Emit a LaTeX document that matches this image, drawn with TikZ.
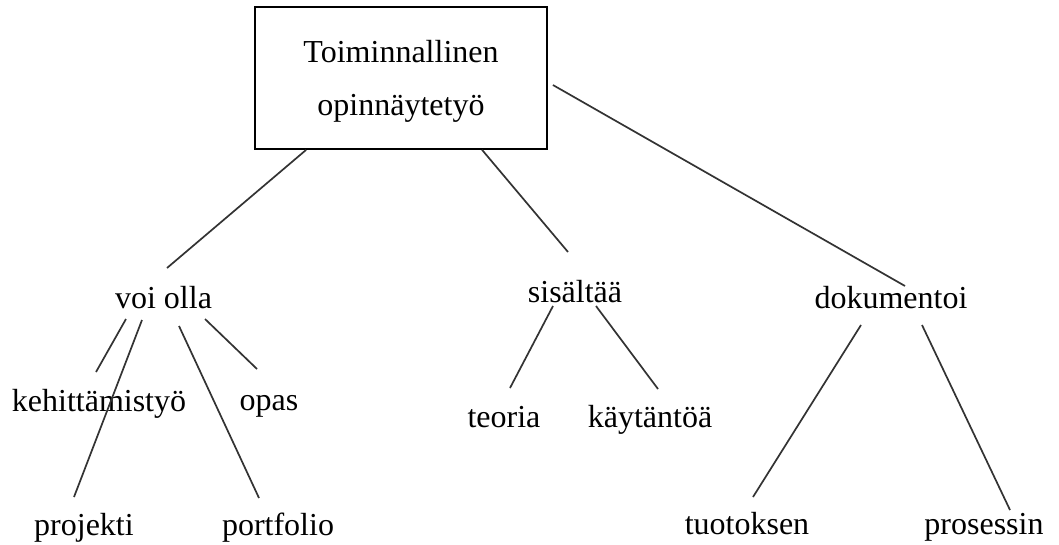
\documentclass[tikz,border=0pt]{standalone}
\usepackage{fontspec}
\setmainfont{Liberation Serif}
\usetikzlibrary{calc}
\begin{document}
\begin{tikzpicture}[x=1pt,y=-1pt,
  lbl/.style={inner sep=0pt,anchor=base,font=\fontsize{32}{38}\selectfont},
  conn/.style={line width=1.7pt,draw=black!80}]
\useasboundingbox (0,0) rectangle (1059,544);
\fill[white] (0,0) rectangle (1059,544);
% root box
\node[draw,line width=1.8pt,minimum width=292pt,minimum height=142pt,inner sep=0pt] (root) at (401,78) {};
\node[lbl] (t1) at (401,62) {Toiminnallinen};
\node[lbl] (t2) at (401,115) {opinnäytetyö};
% level 1
\node[lbl] (voi) at (163.5,308) {voi olla};
\node[lbl] (sis) at (575,302) {sisältää};
\node[lbl] (dok) at (891,308) {dokumentoi};
% level 2
\node[lbl] (keh) at (99,411) {kehittämistyö};
\node[lbl] (opas) at (269,410) {opas};
\node[lbl] (proj) at (84,535) {projekti};
\node[lbl] (port) at (278,535) {portfolio};
\node[lbl] (teo) at (504,427) {teoria};
\node[lbl] (kay) at (650,427) {käytäntöä};
\node[lbl] (tuo) at (747,534) {tuotoksen};
\node[lbl] (pro) at (984,534) {prosessin};
% connectors
\draw[conn] ($(root.south west)+(52,0)$) -- ($(voi.base)+(3.5,-40)$);
\draw[conn] ($(root.south west)+(228,0)$) -- ($(sis.base)+(-7,-50)$);
\draw[conn] ($(root.east)+(5,7)$) -- ($(dok.base)+(14,-22)$);
\draw[conn] ($(voi.base)+(-37.5,11)$) -- ($(keh.base)+(-3,-39)$);
\draw[conn] ($(voi.base)+(-21.5,12)$) -- ($(proj.base)+(-10,-38)$);
\draw[conn] ($(voi.base)+(15.5,18)$) -- ($(port.base)+(-19,-37)$);
\draw[conn] ($(voi.base)+(41.5,11)$) -- ($(opas.base)+(-12,-41)$);
\draw[conn] ($(sis.base)+(-22,4)$) -- ($(teo.base)+(6,-39)$);
\draw[conn] ($(sis.base)+(21,4)$) -- ($(kay.base)+(8,-38)$);
\draw[conn] ($(dok.base)+(-30,17)$) -- ($(tuo.base)+(6,-37)$);
\draw[conn] ($(dok.base)+(31,17)$) -- ($(pro.base)+(26,-24)$);
\end{tikzpicture}
\end{document}
